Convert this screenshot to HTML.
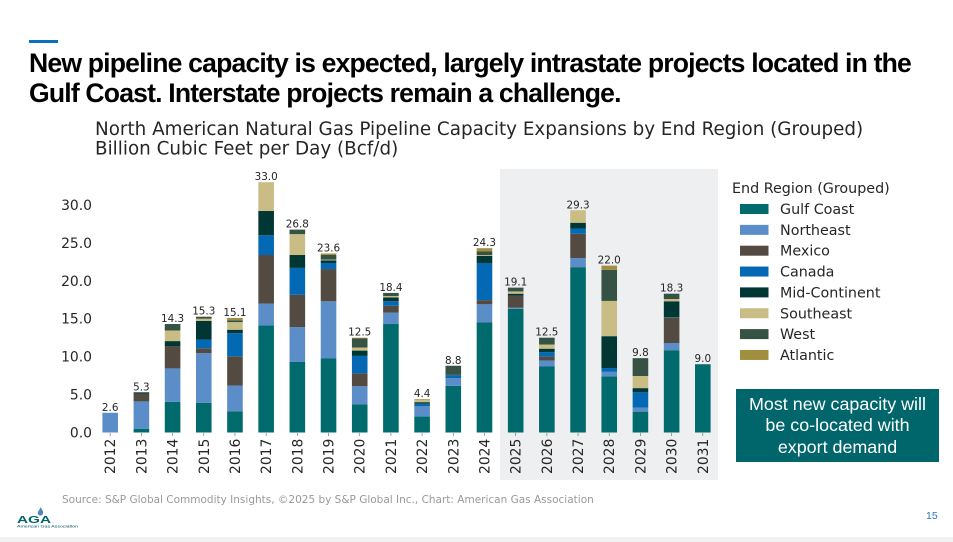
<!DOCTYPE html>
<html lang="en">
<head>
<meta charset="utf-8">
<title>Pipeline capacity</title>
<style>
html,body{margin:0;padding:0;background:#fff;}
#slide{position:relative;width:953px;height:542px;overflow:hidden;background:#fff;font-family:"Liberation Sans",sans-serif;}
#accent{position:absolute;left:29px;top:40px;width:29px;height:3px;background:#0b6fbb;}
#title{position:absolute;left:29px;top:48px;width:910px;font-weight:bold;font-size:26.6px;line-height:30px;letter-spacing:-0.83px;color:#000;white-space:nowrap;}
#callout{position:absolute;left:736px;top:389px;width:203px;height:73px;background:#00666b;color:#fff;font-size:17.9px;line-height:21.5px;text-align:center;box-sizing:border-box;padding-top:4.5px;}
#page-num{position:absolute;left:926px;top:510px;font-size:10.5px;color:#2a77bd;}
#band{position:absolute;left:0;top:537px;width:953px;height:5px;background:#f2f2f2;}
svg{position:absolute;left:0;top:0;}
text{font-family:"DejaVu Sans",sans-serif;}
</style>
</head>
<body>
<div id="slide">
<div id="accent"></div>
<div id="title">New pipeline capacity is expected, largely intrastate projects located in the<br>Gulf Coast. Interstate projects remain a challenge.</div>
<svg id="chart" width="953" height="542" viewBox="0 0 953 542">
<rect x="500" y="169" width="218" height="311" fill="#eeeff1"></rect>
<text x="95" y="135" font-size="18.33" fill="#262626">North American Natural Gas Pipeline Capacity Expansions by End Region (Grouped)</text>
<text x="95" y="154.500" font-size="18.33" fill="#262626">Billion Cubic Feet per Day (Bcf/d)</text>
<g id="y-axis"></g>
<g id="x-axis"></g>
<g id="bars"></g>
<g id="totals"></g>
<g id="legend">
<text x="732" y="193" font-size="14.3" fill="#262626">End Region (Grouped)</text>
</g>
<text x="62" y="503" font-size="10.5" fill="#999999">Source: S&amp;P Global Commodity Insights, ©2025 by S&amp;P Global Inc., Chart: American Gas Association</text>
<g>
<path d="M40.5 507c1.8 3 3 4.500 2.500 6.500c-.4 1.500-1.600 2-2.800 2c-1.300 0-2.400-1-2.400-2.400c0-2 2-3.100 2.700-6.100z" fill="#4f86bd"></path>
<text x="17" y="523" font-size="10.500" font-weight="bold" fill="#00666b" style="font-family:'Liberation Sans',sans-serif" textLength="34" lengthAdjust="spacingAndGlyphs">AGA</text>
<text x="17" y="527.500" font-size="3.800" fill="#00505a" style="font-family:'Liberation Sans',sans-serif" textLength="61" lengthAdjust="spacingAndGlyphs">American Gas Association</text>
</g>
</svg>
<div id="callout">Most new capacity will<br>be co-located with<br>export demand</div>
<div id="page-num">15</div>
<div id="band"></div>
</div>
<script>
const years = [2012,2013,2014,2015,2016,2017,2018,2019,2020,2021,2022,2023,2024,2025,2026,2027,2028,2029,2030,2031];
const gulfCoast = [0,0.5,4.05,3.9,2.8,14.1,9.3,9.8,3.7,14.3,2.1,6.15,14.5,16.3,8.7,21.8,7.4,2.75,10.85,9.0];
const northeast = [2.6,3.6,4.4,6.55,3.4,2.9,4.6,7.5,2.4,1.5,1.3,1.0,2.4,0.15,0.8,1.2,0.6,0.55,0.95,0];
const mexico = [0,1.0,2.95,0.65,3.85,6.4,4.25,4.25,1.7,0.9,0.05,0,0.55,1.6,0.5,3.2,0,0,3.35,0];
const canada = [0,0,0,1.15,3.05,2.6,3.55,0.8,2.3,0.6,0.35,0.4,4.9,0,0.6,0.7,0.5,2.0,0.05,0];
const midContinent = [0,0.2,0.65,2.45,0.45,3.2,1.7,0.35,0.7,0.5,0.2,0.05,0.95,0.25,0.45,0.75,4.2,0.55,2.1,0];
const southeast = [0,0,1.4,0.3,1.0,3.8,2.75,0.1,0.4,0.2,0.3,0,0.1,0.3,0.55,1.65,4.65,1.6,0.3,0];
const west = [0,0,0.85,0.25,0.25,0,0.6,0.6,1.2,0.4,0,1.2,0.5,0.5,0.9,0,4.1,2.35,0.7,0];
const atlantic = [0,0,0,0.05,0.3,0,0,0.2,0.1,0,0.1,0,0.4,0,0,0,0.55,0,0,0];
const totalLabels = ["2.6","5.3","14.3","15.3","15.1","33.0","26.8","23.6","12.5","18.4","4.4","8.8","24.3","19.1","12.5","29.3","22.0","9.8","18.3","9.0"];
const yTicks = [0,5,10,15,20,25,30];
const seriesNames = ["Gulf Coast","Northeast","Mexico","Canada","Mid-Continent","Southeast","West","Atlantic"];
const seriesValues = [gulfCoast,northeast,mexico,canada,midContinent,southeast,west,atlantic];
const seriesColors = ["#006a6c","#5b8dc9","#534b41","#0369b5","#003634","#c9bc85","#355244","#a08f3e"];

const NS = "http://www.w3.org/2000/svg";
const yScale = v => 432.5 - v * 7.585;
const xScale = i => 110.2 + i * 31.19;
const barWidth = 15.6;

function make(tag, attrs, parent, content) {
  const el = document.createElementNS(NS, tag);
  for (const k in attrs) el.setAttribute(k, attrs[k]);
  if (content !== undefined) el.textContent = content;
  parent.appendChild(el);
  return el;
}

const yAxis = document.getElementById("y-axis");
const xAxis = document.getElementById("x-axis");
const barsG = document.getElementById("bars");
const totalsG = document.getElementById("totals");
const legendG = document.getElementById("legend");

yTicks.forEach(t => {
  const el = make("text", {x: 92, y: yScale(t) + 5, "font-size": 13.9, fill: "#262626", "text-anchor": "end"}, yAxis, t.toFixed(1));
  
  
});

years.forEach((yr, i) => {
  const cx = xScale(i);
  const tick = make("line", {x1: cx, x2: cx, y1: 433, y2: 436, stroke: "#777", "stroke-width": 0.7}, xAxis);
  
  
  const lab = make("text", {transform: `translate(${cx + 5},474) rotate(-90)`, "font-size": 13.9, fill: "#262626"}, xAxis, yr);
  
  

  let cum = 0;
  seriesValues.forEach((vals, s) => {
    const v = vals[i];
    if (v <= 0) return;
    const top = yScale(cum + v);
    const r = make("rect", {x: cx - barWidth / 2, y: top, width: barWidth, height: yScale(cum) - top, fill: seriesColors[s]}, barsG);
    
    
    cum += v;
  });
  const t = make("text", {x: cx, y: yScale(cum) - 2, "font-size": 10.4, fill: "#262626", "text-anchor": "middle"}, totalsG, totalLabels[i]);
  
  
});

seriesNames.forEach((name, s) => {
  const y = 209 + s * 20.85;
  const sw = make("rect", {x: 740, y: y - 5, width: 28.5, height: 10, fill: seriesColors[s]}, legendG);
  
  
  const tx = make("text", {x: 780, y: y + 5, "font-size": 14.3, fill: "#262626"}, legendG, name);
  
  
});
</script>
</body>
</html>
